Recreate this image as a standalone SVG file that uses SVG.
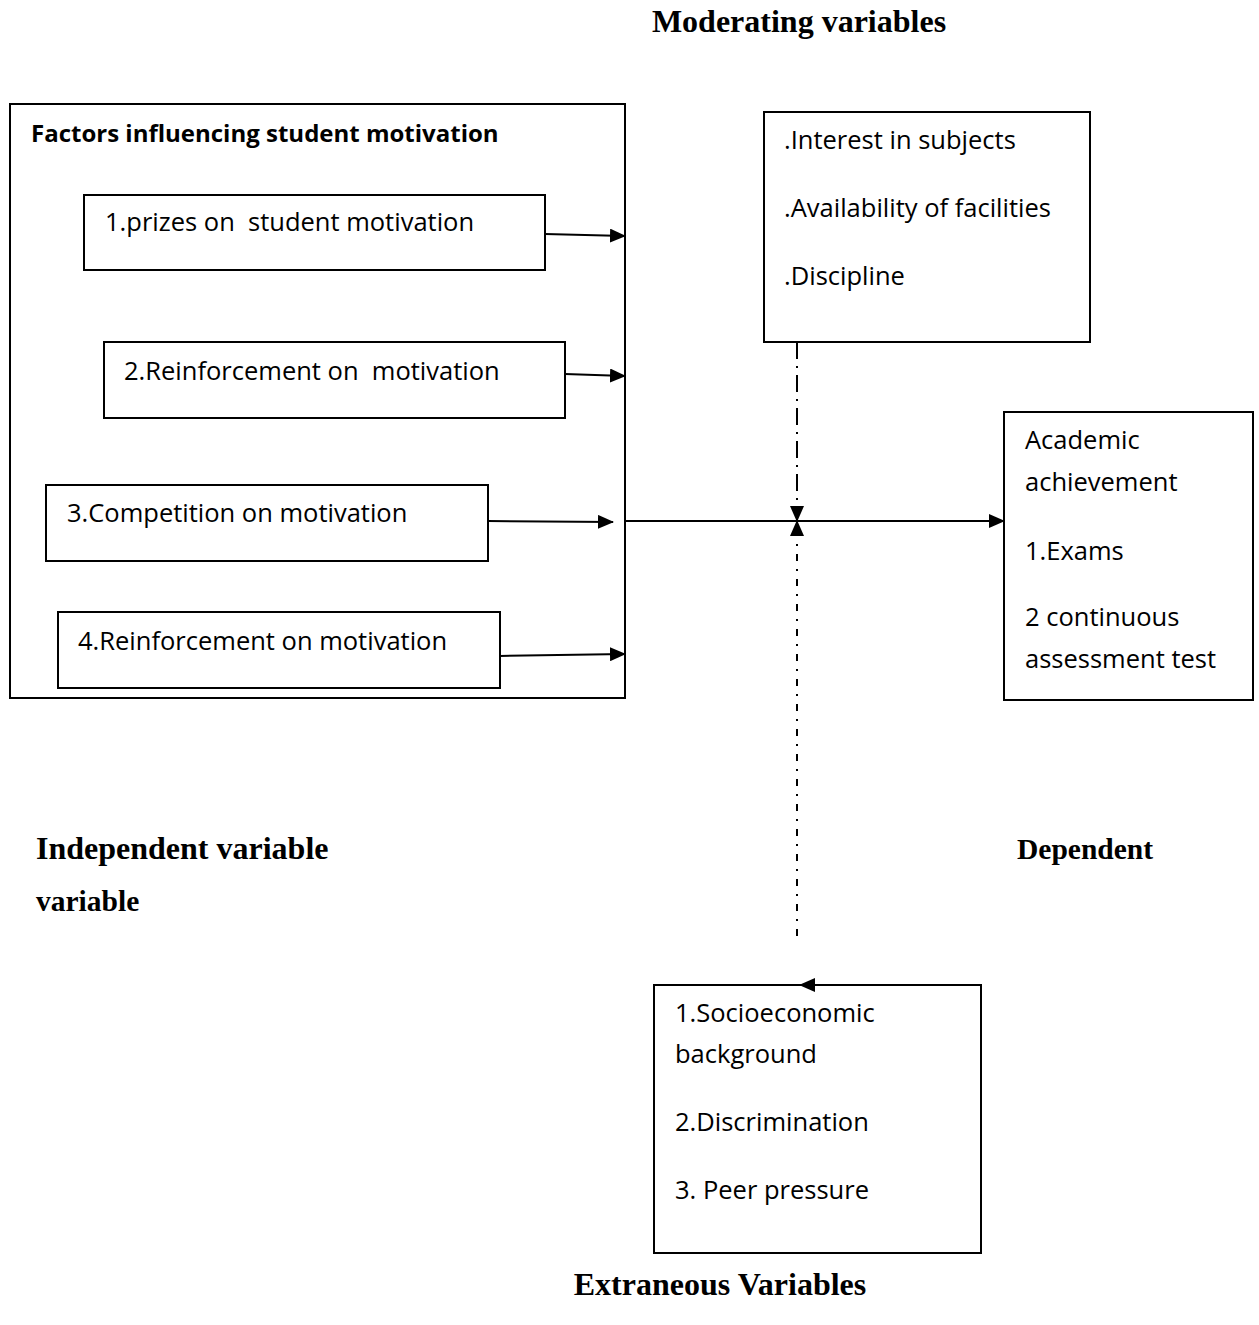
<svg xmlns="http://www.w3.org/2000/svg" width="1259" height="1325" viewBox="0 0 1259 1325">
<style>
.box{fill:#fff;stroke:#000;stroke-width:2}
.t{font-family:"Open Sans","Noto Sans",sans-serif;font-size:25.5px;fill:#000}
.tb{font-family:"Open Sans","Noto Sans",sans-serif;font-size:24px;font-weight:bold;fill:#000}
.h{font-family:"Liberation Serif","Times New Roman",serif;font-size:32px;font-weight:bold;fill:#000}
.c{stroke:#000;stroke-width:2;fill:none}
</style>
<defs>
<marker id="ah" markerUnits="userSpaceOnUse" markerWidth="16" markerHeight="14" refX="15" refY="7" orient="auto">
<path d="M0,0 L16,7 L0,14 Z" fill="#000"/>
</marker>
</defs>
<text class="h" x="799" y="32" text-anchor="middle">Moderating variables</text>
<g id="independent">
<rect class="box" x="10" y="104" width="615" height="594"/>
<text class="tb" x="31" y="142">Factors influencing student motivation</text>
</g>
<g id="f1"><rect class="box" x="84" y="195" width="461" height="75"/><text class="t" x="105" y="231" xml:space="preserve">1.prizes on  student motivation</text></g>
<g id="f2"><rect class="box" x="104" y="342" width="461" height="76"/><text class="t" x="124" y="380" xml:space="preserve">2.Reinforcement on  motivation</text></g>
<g id="f3"><rect class="box" x="46" y="485" width="442" height="76"/><text class="t" x="67" y="522">3.Competition on motivation</text></g>
<g id="f4"><rect class="box" x="58" y="612" width="442" height="76"/><text class="t" x="78" y="650">4.Reinforcement on motivation</text></g>
<g id="moderating"><rect class="box" x="764" y="112" width="326" height="230"/>
<text class="t" x="784" y="149">.Interest in subjects</text>
<text class="t" x="784" y="217">.Availability of facilities</text>
<text class="t" x="784" y="285">.Discipline</text></g>
<g id="dependent"><rect class="box" x="1004" y="412" width="249" height="288"/>
<text class="t" x="1025" y="449">Academic</text>
<text class="t" x="1025" y="491">achievement</text>
<text class="t" x="1025" y="560">1.Exams</text>
<text class="t" x="1025" y="626">2 continuous</text>
<text class="t" x="1025" y="668">assessment test</text></g>
<g id="extraneous"><rect class="box" x="654" y="985" width="327" height="268"/>
<text class="t" x="675" y="1022">1.Socioeconomic</text>
<text class="t" x="675" y="1063">background</text>
<text class="t" x="675" y="1131">2.Discrimination</text>
<text class="t" x="675" y="1199">3. Peer pressure</text></g>
<text class="h" x="36" y="859">Independent variable</text>
<text class="h" x="36" y="911" style="font-size:29.5px">variable</text>
<text class="h" x="1017" y="859" style="font-size:29.5px">Dependent</text>
<text class="h" x="720" y="1295" text-anchor="middle">Extraneous Variables</text>
<g id="connectors">
<line class="c" x1="545" y1="234" x2="625" y2="236" marker-end="url(#ah)"/>
<line class="c" x1="565" y1="374" x2="625" y2="376" marker-end="url(#ah)"/>
<line class="c" x1="488" y1="521" x2="613" y2="522" marker-end="url(#ah)"/>
<line class="c" x1="500" y1="656" x2="625" y2="654" marker-end="url(#ah)"/>
<line class="c" x1="625" y1="521" x2="1004" y2="521" marker-end="url(#ah)"/>
<line class="c" x1="797" y1="342" x2="797" y2="521" stroke-dasharray="17 7 2 7" marker-end="url(#ah)"/>
<line class="c" x1="797" y1="936" x2="797" y2="521" stroke-dasharray="7 8 2 8" marker-end="url(#ah)"/>
<line class="c" x1="815" y1="985" x2="800" y2="985" marker-end="url(#ah)"/>
</g>
</svg>
